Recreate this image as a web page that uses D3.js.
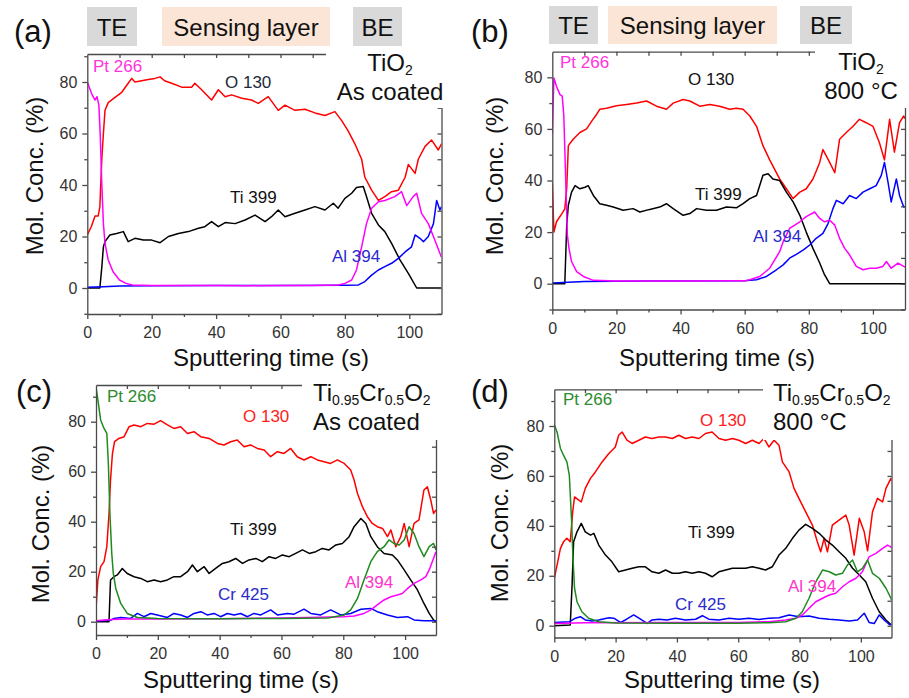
<!DOCTYPE html>
<html>
<head>
<meta charset="utf-8">
<script src="https://cdn.jsdelivr.net/npm/d3@7"></script>
<style>
  body { margin: 0; background: #fff; }
  svg { font-family: Arial, "Liberation Sans", sans-serif; }
</style>
</head>
<body>
<div id="chart"></div>
<script>
// ---- data: [sputtering time (s), mol. conc. (%)] ----

// (a) TiO2 as coated
const aO = [[0,20.6],[1.3,24],[2.4,28],[3.4,28],[3.9,31.6],[4.5,50],[5,60],[5.5,69],[6.5,72],[8.6,74],[10.7,76],[12.7,79.5],[13.8,81.4],[14.8,80],[16.9,80.5],[18.9,81],[21,81.4],[22.6,82],[24,80.5],[26.2,79.5],[29.3,78],[32.4,78],[33.4,79.5],[35.5,77],[38.6,73],[40.7,77],[42.8,74.3],[44.8,75],[48,73.7],[51,73],[53.1,71.7],[56.2,74.3],[59.3,69],[61.4,71],[64.5,69],[67.6,69.4],[70.7,68],[73.8,67],[76.9,68.5],[79,65],[81,61],[83.1,56],[85.2,50],[86.2,43],[88.3,38],[90.4,34],[92.4,35.5],[94.5,37.4],[96.6,38],[98.7,43],[99.7,48],[101.8,44.5],[102.8,50],[104.9,55],[106.9,57.5],[109,53.6],[110,56]];
const aPt = [[0,80],[1.3,75.6],[2.4,73],[3,74.3],[3.6,71],[4,60],[4.5,40.6],[5,25],[5.5,17.3],[6.5,10.9],[8,6.3],[10,3.1],[12,1.8],[14,1.2],[20,1],[30,1],[40,1],[50,0.9],[60,1],[70,1],[78,1.2],[80,1.8],[82.1,3.1],[83.6,7],[85.2,16],[86.7,25],[88.3,31],[90.4,33.5],[92.4,34],[95.5,35.5],[97.6,37.4],[99.2,32],[101.2,35.5],[102.3,36.8],[103.8,29],[105.9,25],[107.5,20],[109.5,13.5],[110,12]];
const aTi = [[0,0],[3.9,0],[4.5,8],[5,16],[5.5,18],[7,20.6],[9.1,21.2],[11.2,21.9],[12.7,18],[14.8,19.3],[17.4,18.6],[20,18.6],[22.6,17.6],[25.2,20],[28.3,21.2],[31.4,21.9],[34.5,23.2],[36.5,23.8],[38.6,25.8],[40.7,23.8],[42.8,25.4],[45.9,25],[49,26.4],[52.1,28.3],[55.2,25.8],[57.2,27.7],[59.3,30.3],[61.4,27.7],[64.5,29],[67.6,30.3],[70.7,31.6],[73.8,30.3],[76.4,32.9],[77.9,31],[80,34.8],[82.1,36.8],[83.6,39],[85.7,39.4],[86.7,35.5],[88.3,29],[90.4,24.5],[92.4,21.9],[94.5,17.3],[97.1,10.9],[99.7,5.7],[102.3,0],[110,0]];
const aAl = [[0,0.3],[5,0.5],[10,0.8],[20,0.9],[40,1],[60,1],[80,1.1],[84.2,1.2],[86.2,2.5],[88.3,5],[90.4,7],[92.4,8.3],[94.5,9.6],[96.6,11.5],[98.7,14],[100.7,16],[101.8,20.6],[103.3,19.3],[104.4,18],[105.9,20],[107.5,25],[108.5,34],[109.5,30.3],[110,31.6]];

// (b) TiO2 800 °C
const bO = [[0,39],[0.5,20],[1.3,24],[2.9,27],[3.9,29],[4.5,37],[5,53.5],[6.5,56],[8.6,58.6],[10.7,60],[12.3,63],[13.8,65.6],[14.8,67.6],[16.9,68],[20,69],[23.2,69.5],[26.3,70],[29.4,70.8],[32.5,68.8],[35.6,67.6],[37.7,70],[40.8,71.4],[42.9,70.8],[46,68.8],[49.1,69.5],[52.2,68.8],[55.3,67.6],[57.4,68],[59.5,67.6],[61.6,65],[63.7,61],[65.7,53.5],[67.8,48],[70.9,40.6],[73,36.8],[75.1,33],[77.2,35.5],[79.2,36.8],[81.3,40.6],[83.4,47],[84.4,52],[86.5,47],[88.1,43],[89.6,56],[91.7,58.6],[93.8,61],[95.8,63.7],[97.9,62.4],[100,61],[102,54.7],[103.6,48],[105.2,63.7],[106.7,51],[108.3,62.4],[109.6,65],[110,64]];
const bPt = [[0,58],[0.5,79.7],[1.3,76.5],[2.4,73.3],[3.1,72.7],[3.6,65],[4.2,39.4],[4.7,18.8],[5.2,13.7],[6,8.6],[7.6,4.7],[9.7,2.8],[12.8,1.3],[20,1],[40,1],[60,1.1],[61.6,1.5],[64.7,2.8],[67.8,6],[70.9,12.4],[72,16.3],[74,21.4],[77.2,24],[79.2,26],[81.8,27.8],[83.4,25.3],[84.9,24],[86.5,24.6],[88.1,22.7],[89.6,17.6],[91.2,13.7],[92.7,11.2],[94.8,6.7],[96.9,5.4],[99,6],[101,6],[103.1,6.7],[104.2,8.6],[105.7,6],[107.8,8],[109.6,6.7],[110,6.5]];
const bTi = [[0,0],[3.9,0],[4.5,22.7],[5,30.4],[6,35.5],[7.1,38],[8.6,36.8],[10.2,37.4],[11.2,38],[12.8,34.2],[14.8,31],[16.9,30.4],[19,29.7],[22.1,28.5],[25.2,29.1],[27.3,27.8],[30.4,28.8],[33.5,29.7],[35.6,31],[37.7,29.1],[40.8,26.5],[42.9,27.2],[45,29.1],[48.1,28.5],[51.2,28.5],[54.3,29.7],[57.4,29.4],[59.5,31],[61.6,33],[63.7,34.2],[65.7,42],[67.3,42.6],[68.8,40.6],[70.9,40],[73,35.5],[75.1,31.7],[77.2,26.5],[79.2,20],[81.3,13.7],[83.4,8],[84.9,3.5],[86.5,0],[110,0]];
const bAl = [[0,0.3],[5,0.6],[10,0.9],[30,1],[60,1.1],[63.7,1.5],[66.8,2.8],[69.9,5.4],[72,7.3],[74,9.9],[76.1,11.4],[78.2,13],[80.3,15],[82.3,17.6],[84.4,19.5],[86,23.3],[87.5,29],[88.6,32.3],[90.7,31],[92.7,34.2],[94.8,33],[96.9,35.5],[99,36.8],[101,38],[102.6,42],[103.6,47],[104.7,39.4],[105.7,31.7],[107.3,40.6],[108.3,34.2],[109.6,29.7],[110,30]];

// (c) Ti0.95Cr0.5O2 as coated
const cO = [[0,5],[0.6,16.7],[1.5,22],[2.6,24],[3.5,30],[4.2,43],[4.7,56.7],[5.3,67],[6,72],[7.4,73.3],[9.1,74],[10.7,78],[12.3,78.7],[14.5,78],[16.6,79.3],[18.8,79],[20.9,80.4],[23.1,78.7],[25.2,77.3],[27.4,78],[29.6,75.3],[31.7,76],[33.9,74],[36.6,73.3],[39.3,71.3],[41.4,70.7],[43.6,72],[45.7,72.7],[47.9,70],[50,70.7],[52.2,69.3],[54.4,68.7],[56.5,66],[58.7,68],[60.8,67.3],[63,69.3],[65.1,66],[67.3,64.7],[69.5,66],[71.6,64.7],[73.8,64],[75.9,63.3],[78.1,64.7],[80.3,63.3],[82.4,60.7],[83.5,56.7],[84.6,51.3],[86.2,46],[87.8,42],[89.4,39.3],[91,38],[92.7,37.3],[94.3,34],[95.4,36.7],[97,30],[98.6,34],[99.7,39.3],[101.3,30],[102.9,39.3],[104.5,40.7],[106.1,52.7],[107.2,54],[108.3,48.7],[109.2,43.3],[110,44.7]];
const cPt = [[0,94],[0.6,88.7],[1.5,80.7],[2.6,77.3],[3.5,75.3],[4,63.3],[4.5,43.3],[5.1,27.3],[5.6,19.3],[6.4,13.3],[8,7.3],[10.1,3.3],[13.4,1.7],[20,1.3],[40,1.2],[60,1.3],[75,1.5],[80.3,2.7],[82.4,4.7],[84.6,9.3],[86.7,16.7],[88.9,24],[91,28],[93.2,30],[94.8,32.7],[96.4,31.3],[98.1,30.7],[99.7,32.7],[101.3,38],[102.9,35.3],[104.5,30],[106.1,26],[107.8,30],[109.2,31.3],[110,28.7]];
const cTi = [[0,0],[4.2,0],[4.7,16.7],[5.8,18],[6.9,18.7],[8.5,21.3],[10.1,19.3],[12.3,18],[14.5,17.3],[16.6,16],[18.8,16.7],[20.9,16],[23.1,16.7],[25.2,18],[27.4,18],[29.6,20],[31.2,22.7],[32.8,20],[35,22],[36.6,19.3],[38.7,21.3],[40.9,23.3],[43,24],[45.2,25.3],[47.4,23.3],[49.5,24.7],[51.7,25.3],[53.8,24],[56,26],[58.1,25.3],[60.3,26.7],[62.5,26],[64.6,27.3],[66.8,28.7],[69,27.3],[71.1,28],[73.2,29.3],[75.4,28.7],[77.6,30.7],[79.7,31.3],[81.9,34],[83.5,38],[85.7,41.3],[87.3,39.3],[88.9,34],[91,30],[93.2,27.3],[95.9,26.7],[97.5,24.7],[99.7,20.7],[101.8,16.7],[104,12.7],[106.1,7.3],[107.8,3.3],[109.2,0.7],[110,0]];
const cCr = [[0,0.3],[5,0.7],[5.8,1.3],[8,1.7],[11.2,1.3],[13.4,3.3],[15.5,2],[17.7,3.3],[19.8,2.7],[23.1,1.7],[25.2,3.3],[27.4,2.7],[29.6,1.7],[31.7,3.3],[33.9,4],[36,2.7],[38.2,3.3],[40.3,2],[42.5,3.3],[44.7,2.7],[46.8,3.3],[49,2],[51.1,3.3],[53.3,2.7],[56.5,4.7],[58.7,2.7],[61.9,3.3],[64.1,3],[67.3,5],[69.5,3.3],[72.7,2.7],[75.9,4.7],[79.2,2.7],[82.4,3.3],[85.7,5],[88.9,5.3],[91,4],[94.3,2.7],[97.5,1.7],[100.8,2],[102.9,0.7],[106.1,0.4],[110,0.4]];
const cAl = [[0,0.4],[5,0.9],[10,1.1],[20,1.1],[40,1.2],[60,1.5],[80,2],[83.5,2.3],[86.7,3.3],[88.9,4.7],[91,6.7],[93.2,8.7],[95.4,10],[97.5,10.7],[99.1,11.3],[100.8,13.3],[102.9,15.3],[105.1,16.7],[106.7,18],[107.8,20.7],[108.8,24],[110,28]];

// (d) Ti0.95Cr0.5O2 800 °C
const dO = [[0,19],[0.9,24.3],[2,31],[3,33.6],[4.1,35],[5.2,33.6],[6,45.6],[6.6,51.6],[8,50.3],[8.8,49.6],[10.1,55],[11.8,59],[13.4,61.6],[15.6,65.6],[17.8,69],[19.9,71.6],[21,76.3],[22.1,77.6],[23.7,74.3],[25.4,73],[27.6,74.3],[29.7,75.6],[31.9,75],[34.1,75.6],[36.3,75.6],[38.5,75],[40.6,76.3],[42.8,75],[45,75.6],[47.2,75],[49.3,77],[51.5,77.6],[53.7,75],[55.9,74.3],[58.1,75],[60.2,74.3],[62.4,73],[64.6,74.3],[66.8,73],[68.4,75],[70,71.6],[71.7,74.3],[73.3,72.3],[74.4,65.6],[76.6,61.6],[78.2,55],[79.8,51],[82,45.6],[84.2,40.3],[85.8,33.6],[86.9,29.6],[88,35],[89.1,29.6],[90.7,40.3],[92.9,42.3],[95.1,44.3],[96.2,40.3],[97.8,28.3],[99.5,43],[101.1,37.6],[102.2,30],[103.8,45.6],[105.4,51],[107.1,49.6],[108.2,55],[109.8,59],[110,58]];
const dPt = [[0,80.5],[0.9,77.6],[2,71],[3,68.3],[4.1,65.6],[4.9,60.3],[5.6,43],[6.1,27],[6.6,15],[7.4,9.6],[9,5.6],[11.2,3],[14.5,1.6],[20,1.1],[40,1],[60,1],[70,1.2],[75.5,1.6],[78.8,3],[80.9,5.6],[83.1,11],[85.3,17.6],[87.5,22.3],[89.7,21.6],[91.8,20.3],[94,21],[95.6,24.3],[97.3,26.3],[98.9,21.6],[100.5,23],[102.2,26.3],[103.8,21],[106,19],[108.2,15],[109.8,11],[110,10.3]];
const dTi = [[0,0],[5.2,0.3],[5.8,16.3],[6.3,33.6],[7.4,37.6],[8.8,41],[10.1,37.6],[11.8,36.3],[12.9,37],[14.5,32.3],[16.7,28.3],[18.8,25.6],[21,21.6],[23.2,22.3],[25.4,23],[27.6,23.6],[29.7,23.6],[31.9,21.6],[34.1,21],[36.3,22.3],[38.5,21],[40.6,21],[42.8,21.6],[45,21],[47.2,21.6],[49.3,21],[51.5,19.6],[53.7,21.6],[55.9,22.3],[58.1,23],[60.2,23],[62.4,23],[64.6,23.6],[66.8,23],[68.9,22.3],[71.1,23.6],[73.3,28.3],[75.5,31],[77.7,35],[79.8,38.3],[82,40.6],[84.2,39],[86.4,37],[88.6,34.3],[90.7,32.3],[92.9,29.6],[95.1,27],[97.3,23],[99.5,20.3],[101.6,17.6],[103.8,11],[106,5.6],[108.2,2.3],[109.8,0.5],[110,0.3]];
const dCr = [[0,1.3],[5,1.6],[6.9,3],[8.5,3.6],[10.1,2.3],[12.3,1.9],[14.5,2.3],[17.8,3.2],[19.4,3],[21.6,1.3],[23.2,2.3],[25.9,4.3],[27.6,3],[30.3,0.9],[31.9,2.3],[34.1,2.6],[36.8,2.3],[39.5,3],[42.8,2.3],[46.1,2.6],[48.3,4],[50.4,2.6],[53.7,2.3],[57,3],[60.2,2.6],[63.5,3],[66.8,2.5],[70,3],[73.3,3.2],[76.6,4.3],[79.8,3.6],[83.1,3.9],[86.4,3],[89.7,2.6],[92.9,2.3],[96.2,1.9],[98.9,2.3],[101.1,5],[102.7,1.3],[104.4,0.9],[106,4.3],[107.6,2.3],[109.3,0.5],[110,0.5]];
const dAl = [[0,0.9],[10,1.2],[40,1.3],[60,1.3],[70,1.6],[75.5,2.3],[78.8,3],[80.9,4.3],[83.1,7],[85.3,9.6],[87.5,11],[89.7,12.3],[91.8,13],[94,15.6],[96.2,17.6],[98.4,19],[100.5,21.6],[102.7,27.6],[104.9,29],[107.1,31],[108.7,32.3],[109.8,31.6],[110,31]];

const xMajor = [0, 20, 40, 60, 80, 100];
const yMajor = [0, 20, 40, 60, 80];

// colours
const RED = "#ff0000", MAG = "#ff00ff", BLK = "#000000", BLU = "#0000ff", GRN = "#1f8a1f";

// panel layout (pixel positions of the frames, labels, notes)
const panels = [
  { id: "a", xl: 87.3, xr: 441.5, y0: 288, y80: 82, yt: 54, yb: 314, topEnd: 326, rightStart: 108,
    series: [[aO, RED], [aTi, BLK], [aAl, BLU], [aPt, MAG]],
    labels: [["Pt 266", 93, 72, "#ff33dd"], ["O 130", 225, 88, "#1e2a3a"], ["Ti 399", 230, 203, "#111"], ["Al 394", 332, 262, "#2a2acc"]],
    letter: [14, 42], ytitle: [43, 176], xtitle: [271, 366],
    header: [[87, 137, "TE", "#d9d9d9"], [162, 330, "Sensing layer", "#fbe5d6"], [353, 402, "BE", "#d9d9d9"]], hy: [7, 46],
    note: { anchor: "middle", x: 390, lines: [[["TiO", 0], ["2", 1]], [["As coated", 0]]], ys: [71, 100] } },
  { id: "b", xl: 552.3, xr: 905, y0: 283.7, y80: 77.3, yt: 51.7, yb: 309.5, topEnd: 815, rightStart: 108,
    series: [[bO, RED], [bTi, BLK], [bAl, BLU], [bPt, MAG]],
    labels: [["Pt 266", 560, 68, "#ff33dd"], ["O 130", 688, 85, "#111"], ["Ti 399", 695, 200, "#111"], ["Al 394", 753, 242, "#2a2acc"]],
    letter: [471, 42], ytitle: [503, 176], xtitle: [717, 366],
    header: [[549, 598, "TE", "#d9d9d9"], [608, 777, "Sensing layer", "#fbe5d6"], [800, 852, "BE", "#d9d9d9"]], hy: [6, 44],
    note: { anchor: "middle", x: 861, lines: [[["TiO", 0], ["2", 1]], [["800 °C", 0]]], ys: [70, 99] } },
  { id: "c", xl: 96, xr: 436, y0: 621.7, y80: 421.7, yt: 385, yb: 635, topEnd: 302, rightStart: 440,
    series: [[cO, RED], [cTi, BLK], [cCr, BLU], [cAl, MAG], [cPt, GRN]],
    labels: [["Pt 266", 107, 402, "#2e8b2e"], ["O 130", 243, 422, "#ff2020"], ["Ti 399", 230, 535, "#111"], ["Cr 425", 218, 600, "#2a2acc"], ["Al 394", 345, 588, "#ff33cc"]],
    letter: [16, 402], ytitle: [49, 524], xtitle: [241, 688],
    note: { anchor: "start", x: 313, lines: [[["Ti", 0], ["0.95", 1], ["Cr", 0], ["0.5", 1], ["O", 0], ["2", 1]], [["As coated", 0]]], ys: [401, 430] } },
  { id: "d", xl: 554.3, xr: 891.5, y0: 625.7, y80: 426, yt: 389.3, yb: 637.5, topEnd: 763, rightStart: 440,
    series: [[dO, RED], [dTi, BLK], [dCr, BLU], [dAl, MAG], [dPt, GRN]],
    labels: [["Pt 266", 563, 405, "#2e8b2e"], ["O 130", 700, 426, "#ff2020"], ["Ti 399", 688, 538, "#111"], ["Cr 425", 675, 610, "#2a2acc"], ["Al 394", 788, 592, "#ff33cc"]],
    letter: [471, 402], ytitle: [508, 523], xtitle: [722, 688],
    note: { anchor: "start", x: 773, lines: [[["Ti", 0], ["0.95", 1], ["Cr", 0], ["0.5", 1], ["O", 0], ["2", 1]], [["800 °C", 0]]], ys: [401, 430] } }
];

const svg = d3.select("#chart").append("svg")
  .attr("width", 909)
  .attr("height", 698);

panels.forEach(drawPanel);

function drawPanel(p) {
  const g = svg.append("g");

  const x = d3.scaleLinear().domain([0, 110]).range([p.xl, p.xr]);
  const yRef = d3.scaleLinear().domain([0, 80]).range([p.y0, p.y80]);
  const y = d3.scaleLinear().domain([yRef.invert(p.yb), yRef.invert(p.yt)]).range([p.yb, p.yt]);
  const [yLo, yHi] = y.domain();

  // curves
  g.append("clipPath").attr("id", "clip-" + p.id)
    .append("rect")
    .attr("x", p.xl).attr("y", p.yt)
    .attr("width", p.xr - p.xl).attr("height", p.yb - p.yt);

  const line = d3.line().x(d => x(d[0])).y(d => y(d[1]));
  p.series.forEach(([data, colour]) => {
    g.append("path")
      .attr("d", line(data))
      .attr("fill", "none")
      .attr("stroke", colour)
      .attr("stroke-width", 1.5)
      .attr("stroke-linejoin", "round")
      .attr("clip-path", `url(#clip-${p.id})`);
  });

  // axes
  const tens = d3.range(-10, 111, 10);
  const yTens = tens.filter(v => v >= yLo - 0.01 && v <= yHi + 0.01);
  const yMinor = yTens.filter(v => !yMajor.includes(v));
  const xMinor = tens.filter(v => v > 0 && v < 110 && !xMajor.includes(v));

  const styleAxis = sel => {
    sel.selectAll("path, line").attr("stroke", "#4a4a4a").attr("stroke-width", 1.3);
    sel.selectAll("text").attr("font-size", 16).attr("fill", "#333")
      .attr("font-family", "Arial, 'Liberation Sans', sans-serif");
  };

  g.append("g").attr("transform", `translate(0,${p.yb})`)
    .call(d3.axisBottom(x).tickValues(xMajor).tickSize(5).tickPadding(8).tickSizeOuter(0))
    .call(styleAxis);
  g.append("g").attr("transform", `translate(0,${p.yb})`)
    .call(d3.axisBottom(x).tickValues(xMinor).tickSize(3).tickFormat(""))
    .call(sel => sel.select(".domain").remove())
    .call(styleAxis);

  g.append("g").attr("transform", `translate(${p.xl},0)`)
    .call(d3.axisLeft(y).tickValues(yMajor).tickSize(5).tickPadding(5).tickSizeOuter(0))
    .call(styleAxis);
  g.append("g").attr("transform", `translate(${p.xl},0)`)
    .call(d3.axisLeft(y).tickValues(yMinor).tickSize(3).tickFormat(""))
    .call(sel => sel.select(".domain").remove())
    .call(styleAxis);

  g.append("g").attr("transform", `translate(0,${p.yt})`)
    .call(d3.axisTop(x).tickValues(d3.range(10, 110, 10)).tickSize(-4).tickFormat("").tickSizeOuter(0))
    .call(styleAxis);
  g.append("g").attr("transform", `translate(${p.xr},0)`)
    .call(d3.axisRight(y).tickValues(yTens).tickSize(-4).tickFormat("").tickSizeOuter(0))
    .call(styleAxis);

  // white box behind the sample note, cutting the frame corner
  g.append("rect")
    .attr("x", p.topEnd).attr("y", p.yt - 6)
    .attr("width", p.xr - p.topEnd + 6).attr("height", p.rightStart - p.yt + 6)
    .attr("fill", "#fff");

  // curve labels
  p.labels.forEach(([t, lx, ly, c]) => {
    g.append("text").attr("x", lx).attr("y", ly)
      .attr("font-size", 17).attr("fill", c).text(t);
  });

  // sample note (subscripts as lowered tspans)
  p.note.lines.forEach((parts, i) => {
    const txt = g.append("text")
      .attr("x", p.note.x).attr("y", p.note.ys[i])
      .attr("text-anchor", p.note.anchor)
      .attr("font-size", 24).attr("fill", "#111");
    parts.forEach(([s, sub], k) => {
      const ts = txt.append("tspan").text(s);
      if (sub) ts.attr("font-size", 14).attr("dy", 4);
      else if (k > 0) ts.attr("dy", -4);
    });
  });

  // panel letter
  g.append("text").attr("x", p.letter[0]).attr("y", p.letter[1])
    .attr("font-size", 31).attr("fill", "#111").text(`(${p.id})`);

  // axis titles
  g.append("text")
    .attr("transform", `translate(${p.ytitle[0]},${p.ytitle[1]}) rotate(-90)`)
    .attr("text-anchor", "middle")
    .attr("font-size", 24).attr("fill", "#111")
    .text("Mol. Conc. (%)");
  g.append("text")
    .attr("x", p.xtitle[0]).attr("y", p.xtitle[1])
    .attr("text-anchor", "middle")
    .attr("font-size", 24).attr("fill", "#111")
    .text("Sputtering time (s)");

  // layer boxes above (a) and (b)
  if (p.header) {
    p.header.forEach(([x0, x1, t, fill]) => {
      g.append("rect")
        .attr("x", x0).attr("y", p.hy[0])
        .attr("width", x1 - x0).attr("height", p.hy[1] - p.hy[0])
        .attr("fill", fill);
      g.append("text")
        .attr("x", (x0 + x1) / 2).attr("y", p.hy[1] - 10)
        .attr("text-anchor", "middle")
        .attr("font-size", 24).attr("fill", "#111")
        .text(t);
    });
  }
}
</script>
</body>
</html>
